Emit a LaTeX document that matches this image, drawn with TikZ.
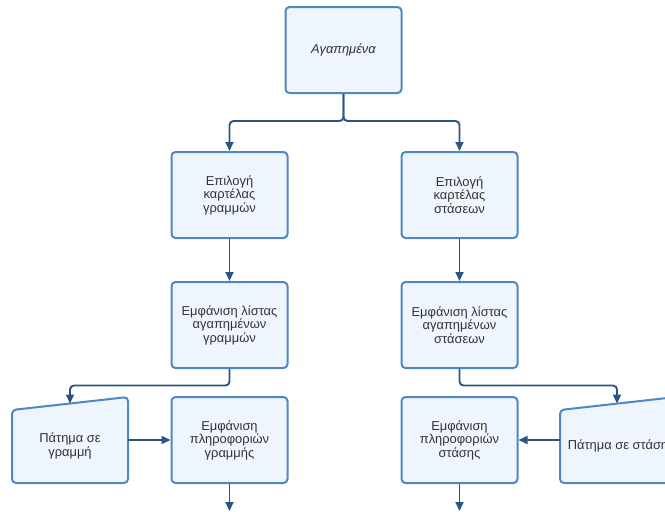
\documentclass[tikz,border=0pt]{standalone}
\usepackage{fontspec}
\setmainfont{Liberation Sans}
\usetikzlibrary{arrows.meta}
\definecolor{boxfill}{HTML}{EFF5FC}
\definecolor{boxline}{HTML}{4F86C6}
\definecolor{arrowc}{HTML}{2A5580}
\definecolor{txt}{HTML}{333333}

\begin{document}
\begin{tikzpicture}[x=1pt,y=-1pt,
  box/.style={draw=boxline, fill=boxfill, line width=2pt, rounded corners=4pt,
    minimum width=116pt, minimum height=86pt, align=center, text=txt,
    font=\fontsize{12.9}{13.5}\selectfont, inner sep=0pt},
  trapshape/.style={draw=boxline, fill=boxfill, line width=2pt, rounded corners=4pt},
  label/.style={align=center, text=txt, font=\fontsize{12.9}{13.5}\selectfont,
    inner sep=0pt, minimum width=116pt},
  arr/.style={draw=arrowc, line width=1.9pt, rounded corners=4pt,
    -{Triangle[length=9pt,width=8pt]}},
  ]
\useasboundingbox (0,0) rectangle (665,512);
\clip (0,0) rectangle (665,512);

% main boxes
\node[box] (fav) at (343.5,50) {\itshape Αγαπημένα};
\node[box] (tabL) at (229.5,195) {Επιλογή\\καρτέλας\\γραμμών};
\node[box] (tabR) at (459.5,195) {Επιλογή\\καρτέλας\\στάσεων};
\node[box] (listL) at (229.5,325) {Εμφάνιση λίστας\\αγαπημένων\\γραμμών};
\node[box] (listR) at (459.5,325) {Εμφάνιση λίστας\\αγαπημένων\\στάσεων};
\node[box] (infoL) at (229.5,440) {Εμφάνιση\\πληροφοριών\\γραμμής};
\node[box] (infoR) at (459.5,440) {Εμφάνιση\\πληροφοριών\\στάσης};

% manual input shapes (slanted top edge)
\draw[trapshape] (12,410) -- (128,397) -- (128,483) -- (12,483) -- cycle;
\draw[trapshape] (560,410) -- (676,397) -- (676,483) -- (560,483) -- cycle;
\node[label] (clickL) at (70,446) {Πάτημα σε\\γραμμή};
\node[label] (clickR) at (618,446) {Πάτημα σε στάση};
\coordinate (clickLtop) at (70,403.5);
\coordinate (clickRtop) at (617,403.6);

% loose ends at the bottom
\coordinate (outL) at (229.5,511);
\coordinate (outR) at (459.5,511);

% connectors
\draw[arr] (fav.south) -- (343.5,121) -| (tabL.north);
\draw[arr] (fav.south) -- (343.5,121) -| (tabR.north);
\draw[arr] (tabL.south) -- (listL.north);
\draw[arr] (tabR.south) -- (listR.north);
\draw[arr] (listL.south) -- (229.5,385.5) -| (clickLtop);
\draw[arr] (listR.south) -- (459.5,385.5) -| (clickRtop);
\draw[arr] ([yshift=6pt]clickL.east) -- (infoL.west);
\draw[arr] ([yshift=6pt]clickR.west) -- (infoR.east);
\draw[arr] (infoL.south) -- (outL);
\draw[arr] (infoR.south) -- (outR);
\end{tikzpicture}
\end{document}
